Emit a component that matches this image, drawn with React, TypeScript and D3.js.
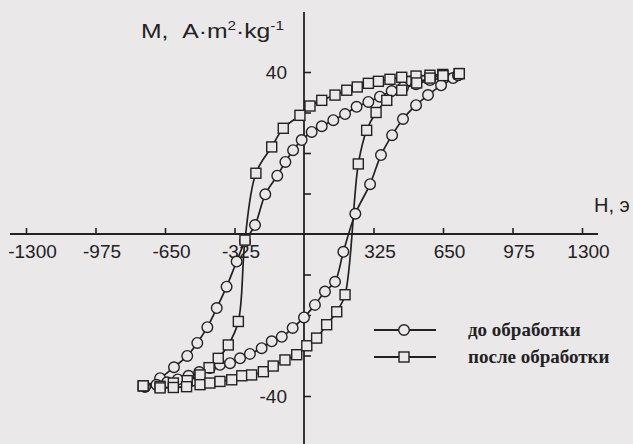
import React, { useEffect, useRef } from 'react';
import * as d3 from 'd3';

// H (Oe) against M (A·m²·kg⁻¹)
// "до обработки" loop, circles: descending branch then ascending branch
const beforeDown: [number, number][] = [
    [720, 39.2], [655, 38.5], [589, 38.0], [524, 37.0], [463, 36.2], [410, 35.3],
    [355, 33.9], [301, 32.6], [246, 31.4], [192, 29.6], [137, 28.1], [83, 26.6],
    [36, 25.2], [-11, 23.2], [-51, 20.7], [-87, 17.8], [-125, 14.4], [-181, 9.8],
    [-229, 2.2], [-276, -1.8], [-315, -6.8], [-362, -13.0], [-408, -18.3], [-452, -23.0],
    [-499, -26.9], [-546, -30.1], [-608, -32.9], [-673, -35.6], [-744, -37.7]
];
const beforeUp: [number, number][] = [
    [-744, -37.7], [-690, -37.2], [-640, -36.6], [-590, -35.9], [-540, -35.0], [-490, -34.1],
    [-440, -33.1], [-393, -32.3], [-346, -31.9], [-299, -30.7], [-253, -29.6], [-198, -28.2],
    [-151, -26.5], [-104, -25.4], [-53, -23.2], [0, -20.6], [51, -17.5], [98, -14.2],
    [145, -11.8], [184, -4.4], [240, 5.0], [309, 12.3], [360, 19.5], [412, 24.4],
    [463, 28.4], [524, 31.8], [580, 34.3], [641, 36.7], [697, 38.5], [720, 39.2]
];
// "после обработки" loop, squares
const afterDown: [number, number][] = [
    [726, 39.6], [649, 39.4], [589, 39.2], [524, 39.0], [457, 38.7], [402, 38.2],
    [348, 37.7], [301, 37.2], [249, 36.3], [200, 35.5], [145, 34.3], [83, 33.0],
    [28, 31.6], [-19, 29.3], [-97, 26.1], [-151, 21.5], [-225, 15.0], [-276, -1.5],
    [-307, -21.6], [-354, -27.4], [-401, -30.7], [-444, -33.0], [-486, -34.8], [-546, -36.2],
    [-611, -36.8], [-673, -37.6], [-752, -37.5]
];
const afterUp: [number, number][] = [
    [-752, -37.5], [-673, -38.0], [-611, -37.9], [-549, -37.7], [-486, -37.2], [-440, -36.8],
    [-393, -36.4], [-338, -36.0], [-291, -35.0], [-245, -34.8], [-190, -34.0], [-144, -32.6],
    [-89, -31.1], [-34, -29.8], [13, -27.6], [59, -25.7], [106, -22.4], [153, -19.2],
    [192, -15.0], [254, 17.3], [293, 25.6], [337, 30.0], [387, 33.0], [457, 35.5],
    [527, 37.3], [589, 38.5], [650, 39.1], [726, 39.6]
];

const xTicks = [-1300, -975, -650, -325, 325, 650, 975, 1300];
const yTicks = [-40, -30, -20, -10, 10, 20, 30, 40];
const yLabelled = [-40, 40];
const legendLabels = ['до обработки', 'после обработки'];

const ink = '#222';
const paper = '#ebe8ea';
const sans = 'Liberation Sans, Arial, sans-serif';

export default function App() {
    const width = 633;
    const height = 444;
    const xAxisRef = useRef<SVGGElement>(null);
    const yAxisRef = useRef<SVGGElement>(null);

    const x = d3.scaleLinear().domain([-1300, 1300]).range([26, 582]);
    const y = d3.scaleLinear().domain([-40, 40]).range([396, 72]);

    useEffect(() => {
        document.body.style.margin = '0';

        const xAxis = d3.axisBottom(x)
            .tickValues(xTicks)
            .tickSizeInner(-6)
            .tickSizeOuter(0)
            .tickPadding(11)
            .tickFormat((d) => String(d));
        const gx = d3.select(xAxisRef.current!).call(xAxis as any);
        gx.select('.domain').remove();
        gx.attr('font-size', 19).attr('font-family', sans);
        gx.selectAll('line').attr('stroke', ink).attr('stroke-width', 1.6);
        gx.selectAll('text').attr('fill', ink).attr('dx', 6);

        const yAxis = d3.axisLeft(y)
            .tickValues(yTicks)
            .tickSizeInner(-7)
            .tickSizeOuter(0)
            .tickPadding(17)
            .tickFormat((d) => (yLabelled.includes(+d) ? String(d) : ''));
        const gy = d3.select(yAxisRef.current!).call(yAxis as any);
        gy.select('.domain').remove();
        gy.attr('font-size', 19).attr('font-family', sans);
        gy.selectAll('line').attr('stroke', ink).attr('stroke-width', 1.6);
        gy.selectAll('text').attr('fill', ink);
    }, []);

    const line = d3.line<[number, number]>()
        .x((d) => x(d[0]))
        .y((d) => y(d[1]))
        .curve(d3.curveCatmullRom.alpha(0.5));

    const series = [
        { name: legendLabels[0], shape: 'circle', branches: [beforeDown, beforeUp] },
        { name: legendLabels[1], shape: 'square', branches: [afterDown, afterUp] }
    ];

    const marker = (shape: string, cx: number, cy: number, key: string) =>
        shape === 'circle'
            ? <circle key={key} cx={cx} cy={cy} r={5.3} fill={paper} stroke={ink} strokeWidth={1.4} />
            : <rect key={key} x={cx - 5} y={cy - 5} width={10} height={10} fill={paper} stroke={ink} strokeWidth={1.4} />;

    return (
        <svg width={width} height={height} style={{ display: 'block' }}>
            <rect width={width} height={height} fill={paper} />

            {/* axis lines run past the outer ticks */}
            <line x1={x(-1375)} x2={x(1375)} y1={y(0)} y2={y(0)} stroke={ink} strokeWidth={1.8} />
            <line x1={x(0)} x2={x(0)} y1={12} y2={height} stroke={ink} strokeWidth={1.8} />
            <g ref={xAxisRef} transform={`translate(0, ${y(0)})`} />
            <g ref={yAxisRef} transform={`translate(${x(0)}, 0)`} />

            <text x={594} y={212} fontSize={20} fontFamily={sans} fill={ink}>H, э</text>
            <text x={141} y={38} fontSize={21} fontFamily={sans} fill={ink}
                textLength={143} lengthAdjust="spacingAndGlyphs">
                M,{'\u00a0\u00a0'}A·m<tspan fontSize={13} dy={-8}>2</tspan>
                <tspan dy={8}>·kg</tspan><tspan fontSize={13} dy={-8}>-1</tspan>
            </text>

            {series.map((s) => (
                <g key={s.name}>
                    {s.branches.map((b, i) => (
                        <path key={i} d={line(b) || ''} fill="none" stroke={ink} strokeWidth={1.7} />
                    ))}
                </g>
            ))}
            {series.map((s) => (
                <g key={s.name + '-m'}>
                    {s.branches.map((b, i) => b.map((d, j) => marker(s.shape, x(d[0]), y(d[1]), `${i}-${j}`)))}
                </g>
            ))}

            {/* legend */}
            {series.map((s, i) => {
                const ly = 330 + i * 27;
                return (
                    <g key={s.name + '-l'}>
                        <line x1={374} x2={436} y1={ly} y2={ly} stroke={ink} strokeWidth={1.8} />
                        {marker(s.shape, 404, ly, 'lg')}
                        <text x={468} y={ly + 6} fontSize={19} fontWeight="bold"
                            fontFamily="Liberation Serif, Times New Roman, serif" fill={ink}>{s.name}</text>
                    </g>
                );
            })}
        </svg>
    );
}
